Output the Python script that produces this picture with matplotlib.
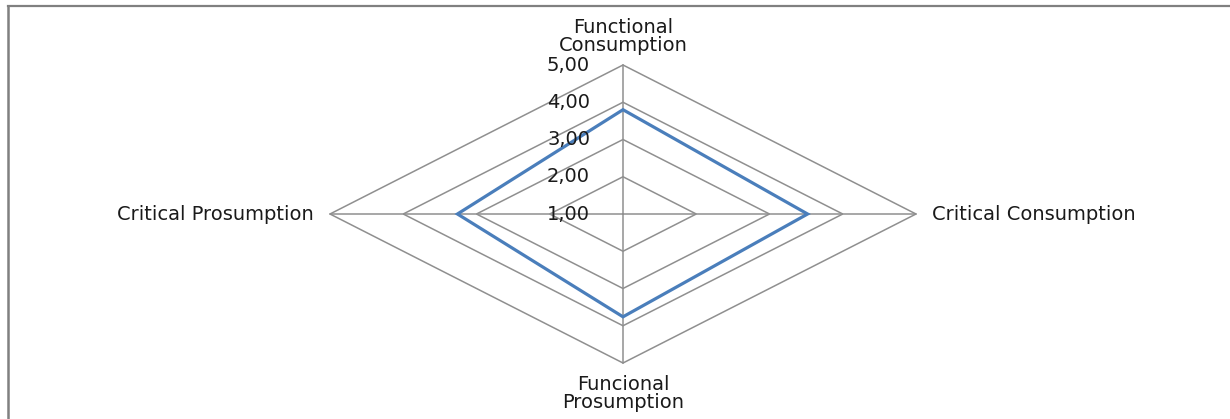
import numpy as np
import matplotlib
matplotlib.use("Agg")
import matplotlib.pyplot as plt
from matplotlib.lines import Line2D
from matplotlib.patches import Polygon

# ---- data ----
categories = ["Functional\nConsumption", "Critical Consumption",
              "Funcional\nProsumption", "Critical Prosumption"]
values = [3.80, 3.52, 3.76, 3.26]
ring_values = [1.00, 2.00, 3.00, 4.00, 5.00]
ring_labels = ["1,00", "2,00", "3,00", "4,00", "5,00"]
r_min = 1.00

W, H = 1230, 419
fig = plt.figure(figsize=(W / 100, H / 100), dpi=100)
fig.patch.set_facecolor("white")

# axes placed so that centre is at (623, 214) px, 73.25 px/unit horizontally, 37.25 px/unit vertically
cx, cy = 623, 214
sx, sy = 73.25, 37.25
span = 5
ax = fig.add_axes([(cx - span * sx) / W, (H - cy - span * sy) / H,
                   2 * span * sx / W, 2 * span * sy / H])
ax.set_xlim(-span, span)
ax.set_ylim(-span, span)
ax.axis("off")

n = len(categories)
theta = np.arange(n) * 2 * np.pi / n  # clockwise from top
dx, dy = np.sin(theta), np.cos(theta)

grid_color = "#8f8f8f"
rmax = ring_values[-1] - r_min
# spokes
for i in range(n):
    ax.plot([0, rmax * dx[i]], [0, rmax * dy[i]], color=grid_color, lw=1.1, zorder=1)
# rings
for rv in ring_values[1:]:
    r = rv - r_min
    ax.add_patch(Polygon(np.column_stack([r * dx, r * dy]), closed=True, fill=False,
                         edgecolor=grid_color, lw=1.1, zorder=1))

# data polygon
rv = np.array(values) - r_min
ax.add_patch(Polygon(np.column_stack([rv * dx, rv * dy]), closed=True, fill=False,
                     edgecolor="#4a7ebb", lw=2.3, zorder=3, joinstyle="miter"))

txt_color = "#1a1a1a"
fs = 14
# ring labels
for v, lab in zip(ring_values, ring_labels):
    ax.text(-0.45, v - r_min, lab, ha="right", va="center", fontsize=fs,
            color=txt_color, zorder=4, clip_on=False)

# category labels
ax.text(0, rmax + 0.27, categories[0], ha="center", va="bottom", fontsize=fs,
        color=txt_color, linespacing=0.95, clip_on=False)
ax.text(rmax + 0.22, 0, categories[1], ha="left", va="center", fontsize=fs,
        color=txt_color, clip_on=False)
ax.text(0, -rmax - 0.32, categories[2], ha="center", va="top", fontsize=fs,
        color=txt_color, linespacing=0.95, clip_on=False)
ax.text(-rmax - 0.22, 0, categories[3], ha="right", va="center", fontsize=fs,
        color=txt_color, clip_on=False)

# outer frame (top and left edges visible)
fig.add_artist(Line2D([8 / W, 1.0], [1 - 6 / H, 1 - 6 / H], transform=fig.transFigure,
                      color="#808080", lw=1.6))
fig.add_artist(Line2D([8 / W, 8 / W], [0, 1 - 6 / H], transform=fig.transFigure,
                      color="#808080", lw=1.8))

fig.savefig("out.png", dpi=100, facecolor="white")
